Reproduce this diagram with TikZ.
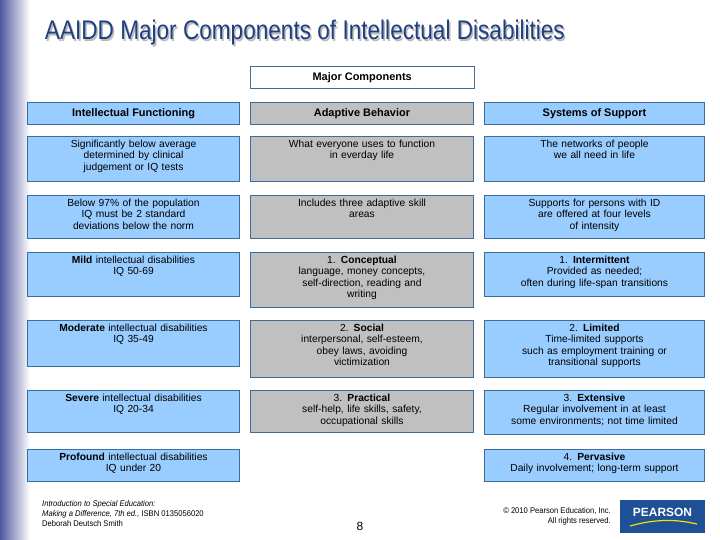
\documentclass[tikz,border=0pt]{standalone}
\usepackage{fontspec}
\setmainfont{Liberation Sans}
\usetikzlibrary{shadings}
\definecolor{bfill}{HTML}{99CCFF}
\definecolor{bdraw}{HTML}{3D6E99}
\definecolor{gfill}{HTML}{C0C0C0}
\definecolor{ttl}{HTML}{1F3F80}
\definecolor{barc}{RGB}{80,88,160}
\definecolor{logoc}{RGB}{30,80,150}
\tikzset{
 box/.style={draw=bdraw,line width=0.8bp,fill=bfill,inner sep=0},
 gbox/.style={box,fill=gfill},
 txt/.style={text width=#1,align=center,inner sep=0,font=\fontsize{10.3}{11.6}\selectfont,anchor=north},
 hdt/.style={font=\bfseries\fontsize{11}{12}\selectfont}
}
\newcommand{\bx}[7]{\node[#1,minimum width=#4-#2,minimum height=#5-#3,anchor=north west] (#6) at (#2,#3) {};
 \node[txt=#4-#2-4bp,below=3.5bp] (#6t) at (#6.north) {#7};}
\newcommand{\hx}[7]{\node[#1,minimum width=#4-#2,minimum height=#5-#3,anchor=north west,hdt] (#6) at (#2,#3) {#7};}
\begin{document}
\begin{tikzpicture}[x=1bp,y=-1bp]
\useasboundingbox (0,0) rectangle (720,540);
\fill[white] (0,0) rectangle (720,540);
\shade[left color=barc,right color=white] (0,0) rectangle (30,540);
\node[anchor=west,text=gray!55,font=\fontsize{27}{29}\selectfont,xscale=0.84] at (43.5,34.5) {AAIDD Major Components of Intellectual Disabilities};
\node[anchor=west,text=ttl,font=\fontsize{27}{29}\selectfont,xscale=0.84] (title) at (42,33) {AAIDD Major Components of Intellectual Disabilities};
\node[draw=bdraw,fill=white,minimum width=224bp,minimum height=22bp,anchor=north west,hdt] (mc) at (250,66) {Major Components};
\hx{box}{27}{102}{240}{124}{h1}{Intellectual Functioning}
\hx{gbox}{250}{102}{474}{124}{h2}{Adaptive Behavior}
\hx{box}{484}{102}{705}{124}{h3}{Systems of Support}
% row 1
\bx{box}{27}{136}{240}{181}{a1}{Significantly below average\\determined by clinical\\judgement or IQ tests}
\bx{gbox}{250}{136}{474}{181}{b1}{What everyone uses to function\\in everday life}
\bx{box}{484}{136}{705}{181}{c1}{The networks of people\\we all need in life}
% row 2
\bx{box}{27}{195}{240}{238}{a2}{Below 97\% of the population\\IQ must be 2 standard\\deviations below the norm}
\bx{gbox}{250}{195}{474}{238}{b2}{Includes three adaptive skill\\areas}
\bx{box}{484}{195}{705}{238}{c2}{Supports for persons with ID\\are offered at four levels\\of intensity}
% row 3
\bx{box}{27}{252}{240}{296}{a3}{\textbf{Mild} intellectual disabilities\\IQ 50-69}
\bx{gbox}{250}{252}{474}{307}{b3}{1. \textbf{Conceptual}\\language, money concepts,\\self-direction, reading and\\writing}
\bx{box}{484}{252}{705}{296}{c3}{1. \textbf{Intermittent}\\Provided as needed;\\often during life-span transitions}
% row 4
\bx{box}{27}{320}{240}{366}{a4}{\textbf{Moderate} intellectual disabilities\\IQ 35-49}
\bx{gbox}{250}{320}{474}{377}{b4}{2. \textbf{Social}\\interpersonal, self-esteem,\\obey laws, avoiding\\victimization}
\bx{box}{484}{320}{705}{377}{c4}{2. \textbf{Limited}\\Time-limited supports\\such as employment training or\\transitional supports}
% row 5
\bx{box}{27}{390}{240}{432}{a5}{\textbf{Severe} intellectual disabilities\\IQ 20-34}
\bx{gbox}{250}{390}{474}{432}{b5}{3. \textbf{Practical}\\self-help, life skills, safety,\\occupational skills}
\bx{box}{484}{390}{705}{434}{c5}{3. \textbf{Extensive}\\Regular involvement in at least\\some environments; not time limited}
% row 6
\bx{box}{27}{449}{240}{481}{a6}{\textbf{Profound} intellectual disabilities\\IQ under 20}
\bx{box}{484}{449}{705}{481}{c6}{4. \textbf{Pervasive}\\Daily involvement; long-term support}
% footer
\node[anchor=north west,align=left,font=\fontsize{8.3}{10.3}\selectfont,inner sep=0,xscale=0.92] (ft) at (42,500) {\textit{Introduction to Special Education:}\\\textit{Making a Difference, 7th ed.,} ISBN 0135056020\\Deborah Deutsch Smith};
\node[font=\fontsize{12}{13}\selectfont] (pg) at (360,526) {8};
\node[anchor=north east,align=right,font=\fontsize{8.3}{10.3}\selectfont,inner sep=0,xscale=0.92] (cp) at (611,507) {© 2010 Pearson Education, Inc.\\All rights reserved.};
\fill[logoc] (620,500) rectangle (705,533);
\node[text=white,font=\bfseries\fontsize{12}{13}\selectfont] (logo) at (662.5,512) {PEARSON};
\draw[yellow!80!orange,line width=1.2bp] (630,526) .. controls (655,519) and (675,519) .. (697,524);
\end{tikzpicture}
\end{document}
